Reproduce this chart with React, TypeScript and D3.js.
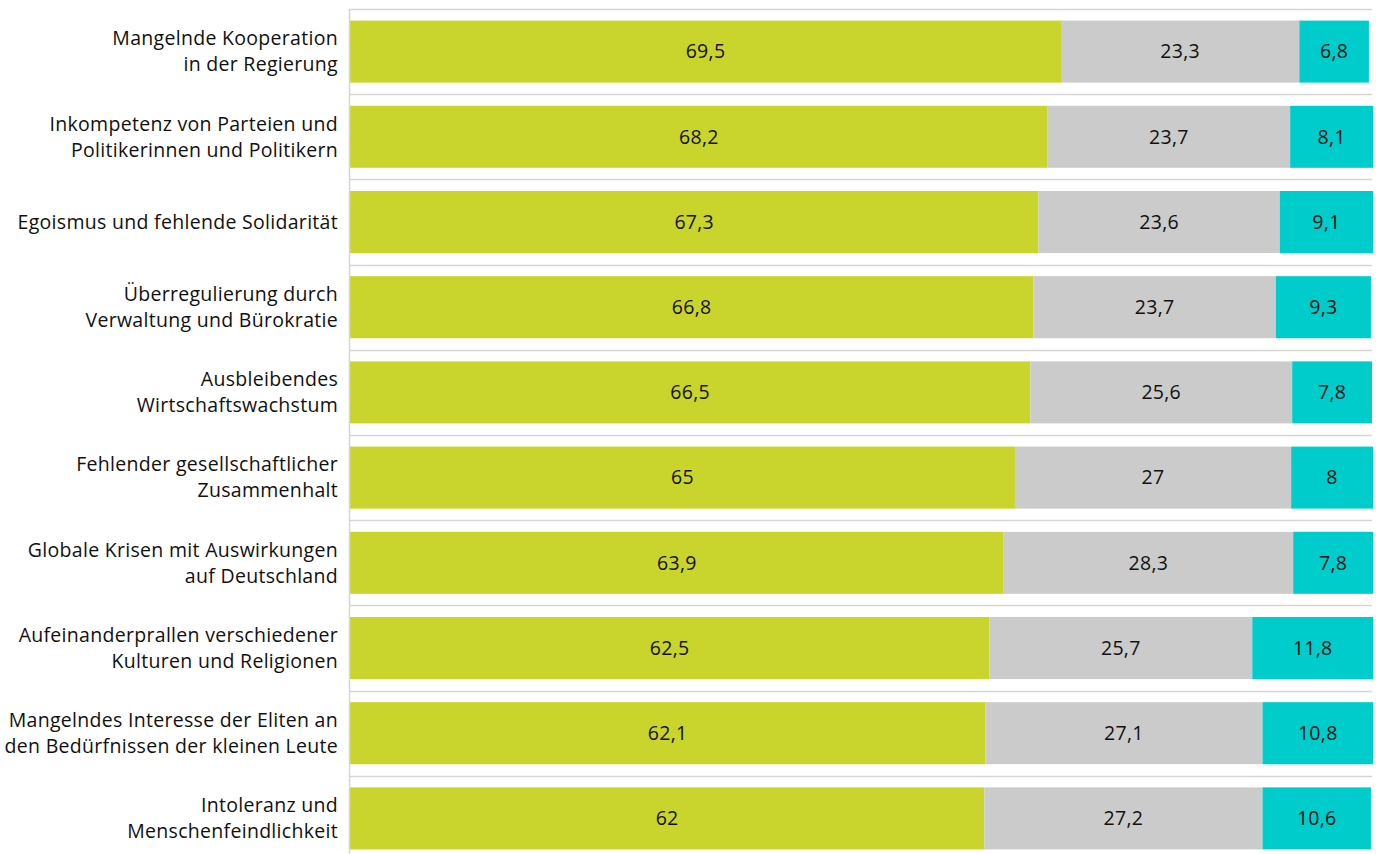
import React from "react";
import * as d3 from "d3";

const categories: string[][] = [
  ["Mangelnde Kooperation", "in der Regierung"],
  ["Inkompetenz von Parteien und", "Politikerinnen und Politikern"],
  ["Egoismus und fehlende Solidarität"],
  ["Überregulierung durch", "Verwaltung und Bürokratie"],
  ["Ausbleibendes", "Wirtschaftswachstum"],
  ["Fehlender gesellschaftlicher", "Zusammenhalt"],
  ["Globale Krisen mit Auswirkungen", "auf Deutschland"],
  ["Aufeinanderprallen verschiedener", "Kulturen und Religionen"],
  ["Mangelndes Interesse der Eliten an", "den Bedürfnissen der kleinen Leute"],
  ["Intoleranz und", "Menschenfeindlichkeit"],
];
const seriesA = [69.5, 68.2, 67.3, 66.8, 66.5, 65, 63.9, 62.5, 62.1, 62];
const seriesB = [23.3, 23.7, 23.6, 23.7, 25.6, 27, 28.3, 25.7, 27.1, 27.2];
const seriesC = [6.8, 8.1, 9.1, 9.3, 7.8, 8, 7.8, 11.8, 10.8, 10.6];
const colors = ["#c9d52c", "#cbcbcb", "#00cccc"];

const W = 1376;
const H = 854;
const FONT = "'Open Sans', sans-serif";

export default function App() {
  const ids = categories.map((_, i) => String(i));
  const y = d3.scaleBand<string>().domain(ids).range([9, 861]).paddingInner(0.272).paddingOuter(0.136);
  const x = d3.scaleLinear().domain([0, 100]).range([350, 1373]);
  const rows = categories.map((c, i) => ({ id: String(i), label: c, vals: [seriesA[i], seriesB[i], seriesC[i]] }));
  const fmt = (v: number) => String(v).replace(".", ",");
  const step = y.step();
  const gridYs = ids.map((id) => (y(id) as number) - (step - y.bandwidth()) / 2);

  return (
    <div style={{ position: "fixed", left: 0, top: 0 }}>
      <svg width={W} height={H} style={{ display: "block", background: "#fff" }}>
        {gridYs.map((gy, i) => (
          <line key={"g" + i} x1={349.5} x2={1372} y1={Math.round(gy) + 0.5} y2={Math.round(gy) + 0.5} stroke="#d6d6d6" strokeWidth={1.5} />
        ))}
        {rows.map((r) => {
          const by = y(r.id) as number;
          const bh = y.bandwidth();
          let acc = 0;
          const cy = by + bh / 2;
          return (
            <g key={r.id}>
              {r.vals.map((v, j) => {
                const x0 = x(acc);
                acc += v;
                const x1 = x(acc);
                return (
                  <g key={j}>
                    <rect x={x0} y={by} width={x1 - x0} height={bh} fill={colors[j]} />
                    <text x={(x0 + x1) / 2} y={cy} dy="0.35em" textAnchor="middle" fontFamily={FONT} fontSize={19.5} fill="#111" letterSpacing={0.3}>
                      {fmt(v)}
                    </text>
                  </g>
                );
              })}
              <text x={338} y={cy} textAnchor="end" fontFamily={FONT} fontSize={19.5} fill="#111" letterSpacing={0.3}>
                {r.label.map((l, k) => (
                  <tspan key={k} x={338} y={cy + (k - (r.label.length - 1) / 2) * 26} dy="0.35em">
                    {l}
                  </tspan>
                ))}
              </text>
            </g>
          );
        })}
        <line x1={349.5} x2={349.5} y1={9} y2={H} stroke="#d6d6d6" strokeWidth={1.5} />
      </svg>
    </div>
  );
}
